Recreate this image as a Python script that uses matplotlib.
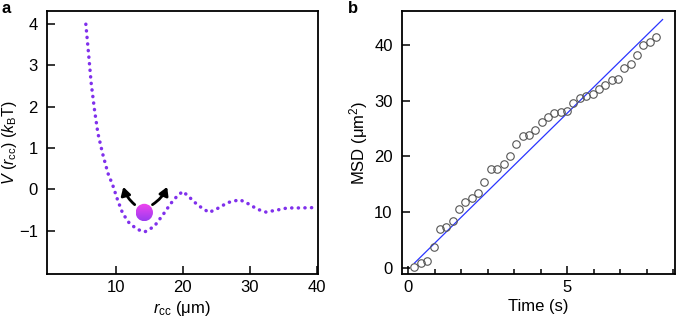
import numpy as np
import matplotlib
matplotlib.use("Agg")
import matplotlib.pyplot as plt
from matplotlib.patches import Ellipse, FancyArrowPatch
from matplotlib.colors import LinearSegmentedColormap
from matplotlib.ticker import MultipleLocator

plt.rcParams['font.family'] = ['Liberation Sans', 'DejaVu Sans']
plt.rcParams['mathtext.fontset'] = 'custom'
plt.rcParams['mathtext.rm'] = 'Liberation Sans'
plt.rcParams['mathtext.it'] = 'Liberation Sans:italic'
plt.rcParams['mathtext.bf'] = 'Liberation Sans:bold'

# ---- Panel a data: potential V(r_cc) ----
r_cc = [5.5, 5.9, 6.3, 6.8, 7.3, 8.0, 8.8, 9.5, 10.25, 11.0, 12.0, 13.2, 14.3,
        15.7, 17.0, 18.2, 19.2, 20.0, 20.9, 22.2, 23.9, 25.2, 26.7, 28.5, 29.9,
        31.1, 32.4, 34.1, 35.6, 37.6, 40.0]
V = [4.0, 3.3, 2.57, 1.92, 1.36, 0.87, 0.39, 0.11, -0.26, -0.58, -0.82, -0.97,
     -1.03, -0.90, -0.62, -0.34, -0.15, -0.05, -0.18, -0.38, -0.56, -0.46,
     -0.32, -0.25, -0.36, -0.48, -0.55, -0.50, -0.45, -0.45, -0.44]
ball_pos = (14.23, -0.56)

# ---- Panel b data: MSD vs time ----
time_s = [0.2, 0.4, 0.6, 0.8, 1.0, 1.2, 1.4, 1.6, 1.8, 2.0, 2.2, 2.4, 2.6, 2.8,
          3.0, 3.2, 3.4, 3.6, 3.8, 4.0, 4.2, 4.4, 4.6, 4.8, 5.0, 5.2, 5.4, 5.6,
          5.8, 6.0, 6.2, 6.4, 6.6, 6.8, 7.0, 7.2, 7.4, 7.6, 7.8]
msd = [0.3, 0.95, 1.3, 3.9, 7.0, 7.4, 8.5, 10.6, 11.8, 12.6, 13.4, 15.5, 17.7,
       17.7, 18.6, 20.1, 22.3, 23.6, 23.9, 24.7, 26.1, 27.1, 27.7, 28.0, 28.1,
       29.5, 30.5, 30.8, 31.1, 32.1, 32.8, 33.6, 33.9, 35.9, 36.6, 38.2, 40.0,
       40.5, 41.4]
fit_t = [0.2, 8.0]
fit_slope = 5.58
fit_intercept = -0.17

W, H = 676, 318
fig = plt.figure(figsize=(W / 100, H / 100), dpi=100)

def frac(l, r, t, b):
    return [l / W, 1 - b / H, (r - l) / W, (b - t) / H]

fs = 12
# ---------------- Panel a ----------------
ax1 = fig.add_axes(frac(47, 317.5, 11, 274))
ax1.plot(r_cc, V, color='#8030ec', lw=2.5, linestyle=(0, (0.05, 1.85)),
         dash_capstyle='round', zorder=2)
ax1.set_xlim(-0.3, 40.1)
ax1.set_ylim(-2.05, 4.32)
ax1.set_xticks([10, 20, 30, 40])
ax1.set_yticks([-1, 0, 1, 2, 3, 4])
ax1.set_yticklabels(['\u22121', '0', '1', '2', '3', '4'])
ax1.tick_params(direction='in', length=6, width=1.1, labelsize=fs)
ax1.tick_params(axis='y', pad=6.5)
ax1.tick_params(axis='x', pad=4)
for s in ax1.spines.values():
    s.set_linewidth(1.3)
ax1.set_xlabel(r'$r_{\rm cc}$ ($\rm\mu$m)', fontsize=fs, labelpad=3)
ax1.set_ylabel(r'$V$ ($r_{\rm cc}$) ($k_{\rm B}$T)', fontsize=11.5)
ax1.yaxis.set_label_coords((19 - 47) / 270.5, 0.5)

# ball with gradient
fig.canvas.draw()
px_per_x = ax1.transData.transform((1, 0))[0] - ax1.transData.transform((0, 0))[0]
px_per_y = ax1.transData.transform((0, 1))[1] - ax1.transData.transform((0, 0))[1]
rad = 8.7
w = 2 * rad / px_per_x
h = 2 * rad / px_per_y
cx, cy = ball_pos
ell = Ellipse((cx, cy), w, h, transform=ax1.transData, facecolor='none',
              edgecolor='none')
ax1.add_patch(ell)
cmap = LinearSegmentedColormap.from_list('ball', ['#9a3cf0', '#f245ee'])
grad = np.linspace(0, 1, 64).reshape(-1, 1)
im = ax1.imshow(grad, cmap=cmap, extent=[cx - w / 2, cx + w / 2, cy + h / 2, cy - h / 2],
                aspect='auto', zorder=3, interpolation='bilinear')
im.set_clip_path(ell)
ax1.set_xlim(-0.3, 40.1)
ax1.set_ylim(-2.05, 4.32)

arrow_kw = dict(arrowstyle='-|>,head_length=0.6,head_width=0.35', color='black',
                lw=2.0, mutation_scale=8, zorder=4, shrinkA=0, shrinkB=0)
ax1.add_patch(FancyArrowPatch((12.8, -0.37), (11.1, 0.06),
                              connectionstyle='arc3,rad=-0.15', **arrow_kw))
ax1.add_patch(FancyArrowPatch((15.45, -0.37), (17.65, 0.06),
                              connectionstyle='arc3,rad=0.15', **arrow_kw))

# ---------------- Panel b ----------------
ax2 = fig.add_axes(frac(401.7, 675.3, 11, 274))
tt = np.array(fit_t)
ax2.plot(tt, fit_slope * tt + fit_intercept, color='#2a35ff', lw=0.9, zorder=2)
ax2.plot(time_s, msd, linestyle='none', marker='o', markersize=5.4,
         markerfacecolor='none', markeredgecolor='#555555', markeredgewidth=0.8,
         zorder=3)
ax2.set_xlim(-0.2, 8.4)
ax2.set_ylim(-1.0, 46.0)
ax2.set_xticks([0, 5])
ax2.xaxis.set_minor_locator(MultipleLocator(5 / 6))
ax2.set_yticks([0, 10, 20, 30, 40])
ax2.tick_params(direction='in', length=6, width=1.1, labelsize=fs)
ax2.tick_params(which='minor', direction='in', length=3.5, width=1.1)
ax2.tick_params(axis='y', pad=6.5)
ax2.tick_params(axis='x', pad=4)
for s in ax2.spines.values():
    s.set_linewidth(1.3)
ax2.set_xlabel('Time (s)', fontsize=fs, labelpad=3)
ax2.set_ylabel(r'MSD ($\rm\mu$m$^2$)', fontsize=fs, labelpad=3)

fig.text(1 / W, 1 - 1 / H, 'a', fontsize=12, fontweight='bold', va='top', ha='left')
fig.text(348 / W, 1 - 1 / H, 'b', fontsize=12, fontweight='bold', va='top', ha='left')

fig.savefig('out.png', dpi=100)
